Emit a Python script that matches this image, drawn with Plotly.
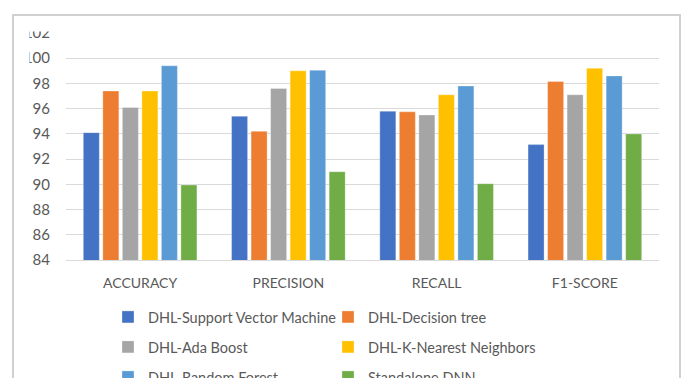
import plotly.graph_objects as go

categories = ["ACCURACY", "PRECISION", "RECALL", "F1-SCORE"]
series_names = [
    "DHL-Support Vector Machine",
    "DHL-Decision tree",
    "DHL-Ada Boost",
    "DHL-K-Nearest Neighbors",
    "DHL-Random Forest",
    "Standalone DNN",
]
svm = [94.1, 95.4, 95.8, 93.15]
dtree = [97.4, 94.2, 95.75, 98.15]
ada = [96.1, 97.6, 95.5, 97.1]
knn = [97.4, 99.0, 97.1, 99.2]
rf = [99.4, 99.05, 97.8, 98.6]
dnn = [89.95, 91.0, 90.05, 94.0]
series_values = [svm, dtree, ada, knn, rf, dnn]
colors = ["#4472C4", "#ED7D31", "#A5A5A5", "#FFC000", "#5B9BD5", "#70AD47"]
y_ticks = [84, 86, 88, 90, 92, 94, 96, 98, 100, 102]

W, H = 681, 378
L, R, T, B = 66, 22, 33, 118
PW, PH = W - L - R, H - T - B


def px_x(p):
    return (p - L) / PW


def px_y(p):
    return (H - B - p) / PH


legend_names = ["legend", "legend2", "legend3"]
fig = go.Figure()
for i, (name, vals, col) in enumerate(zip(series_names, series_values, colors)):
    fig.add_trace(go.Bar(
        x=categories, y=vals, name=name,
        marker=dict(color=col, line=dict(color="rgba(255,255,255,0.6)", width=0.5)),
        legend=legend_names[i // 2],
    ))

font_family = "Lato, 'Liberation Sans', sans-serif"
legend_common = dict(
    orientation="h", xref="paper", yref="paper", xanchor="left", yanchor="middle",
    x=px_x(108), entrywidth=175, entrywidthmode="pixels",
    font=dict(family=font_family, size=14.5, color="#595959"),
    bgcolor="rgba(0,0,0,0)", borderwidth=0, traceorder="normal",
)
rows_px = [317, 347, 377]
layout_legends = {}
for ln, ry in zip(legend_names, rows_px):
    d = dict(legend_common)
    d["y"] = px_y(ry)
    layout_legends[ln] = d

fig.update_layout(
    width=W, height=H,
    margin=dict(l=L, r=R, t=T, b=B, autoexpand=False),
    paper_bgcolor="white", plot_bgcolor="white",
    barmode="group", bargap=0.21, bargroupgap=0.18,
    font=dict(family=font_family, color="#595959"),
    showlegend=True,
    **layout_legends,
)
fig.update_yaxes(
    range=[84, 102], tickvals=y_ticks, ticktext=[str(v) for v in y_ticks],
    showgrid=True, gridcolor="#d9d9d9", gridwidth=1,
    zeroline=False, showline=False, ticks="",
    tickfont=dict(family=font_family, size=15, color="#595959"),
    ticklabelstandoff=15,
)
fig.update_xaxes(
    showgrid=False, showline=True, linecolor="#d9d9d9", linewidth=1,
    ticks="", tickfont=dict(family=font_family, size=14, color="#595959"),
    ticklabelstandoff=10,
)

# chart frame (Excel-like)
fig.add_shape(type="rect", xref="paper", yref="paper",
              x0=px_x(13), x1=px_x(680), y0=px_y(420), y1=px_y(15),
              line=dict(color="#d0d0d0", width=2), fillcolor="rgba(0,0,0,0)", layer="below")
# clipping of the top tick labels, as in the reference screenshot
fig.add_shape(type="rect", xref="paper", yref="paper",
              x0=px_x(15), x1=px_x(29.5), y0=px_y(70), y1=px_y(16),
              line=dict(width=0), fillcolor="white", layer="above")
fig.add_shape(type="rect", xref="paper", yref="paper",
              x0=px_x(15), x1=px_x(60), y0=px_y(31.5), y1=px_y(16),
              line=dict(width=0), fillcolor="white", layer="above")

fig.write_html("out.html")
